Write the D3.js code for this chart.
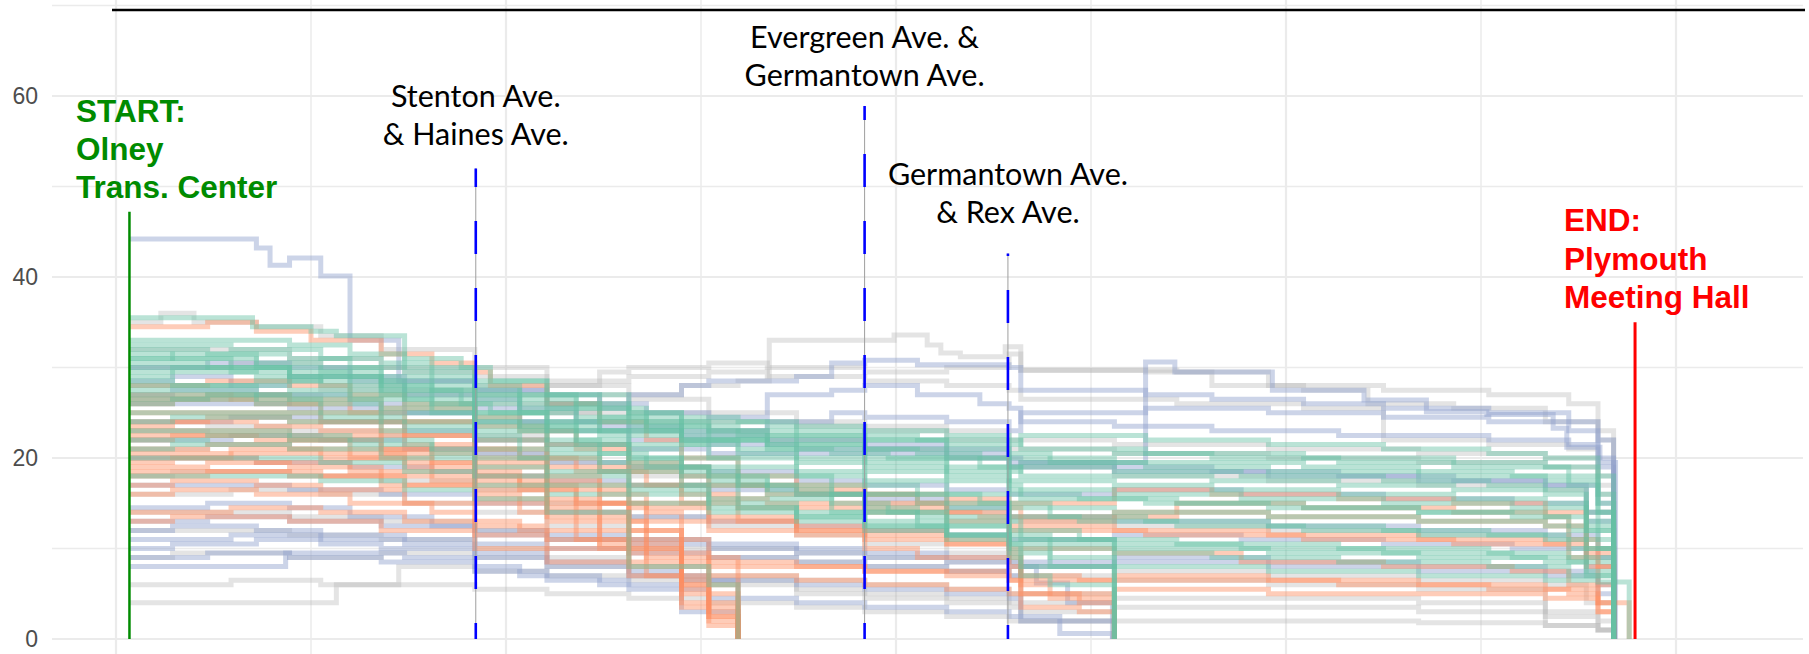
<!DOCTYPE html>
<html><head><meta charset="utf-8">
<script src="https://cdn.jsdelivr.net/npm/d3@7"></script>
<style>body{margin:0;background:#fff;overflow:hidden}</style>
</head><body><svg id="chart" width="1809" height="654"></svg>
<script>
// ---- axis values ----
const yTicks = [0, 20, 40, 60];
const yMinor = [10, 30, 50, 70];
const xMajor = [0, 2, 4, 6, 8];
const xMinor = [1, 3, 5, 7];

// ---- route landmarks (distance along route, value at top of marker) ----
const midStops = [
  {lines: ["Stenton Ave.", "& Haines Ave."], x: 1.845, top: 52.0},
  {lines: ["Evergreen Ave. &", "Germantown Ave."], x: 3.839, top: 58.9},
  {lines: ["Germantown Ave.", "& Rex Ave."], x: 4.574, top: 42.6}
];
const startStop = {lines: ["START:", "Olney", "Trans. Center"], x: 0.069, top: 47.2};
const endStop = {lines: ["END:", "Plymouth", "Meeting Hall"], x: 7.79, top: 35.0};

// ---- trips: [distance, value] step points ----
const greenTrips = [
  [[0.07,35.5],[0.30,35.5],[0.70,34.5],[1.00,34],[1.13,33.5],[1.48,31],[1.77,30],[1.92,28.5],[2.21,27],[2.48,25.5],[2.72,24],[3.04,23],[3.34,22.5],[3.84,22],[4.26,21.5],[4.64,22.5],[5.28,22],[5.91,21.5],[6.50,21],[7.04,20.5],[7.33,20],[7.60,18],[7.68,0]],
  [[0.07,32],[0.47,31.5],[0.89,31],[1.20,30],[1.48,29.5],[1.84,28],[2.07,27],[2.36,26],[2.63,25],[2.90,24.5],[3.19,24],[3.49,23],[3.84,22.5],[4.11,22],[4.58,20.5],[4.79,19.5],[5.44,19.5],[6.09,19],[6.68,18.5],[7.16,18],[7.45,17],[7.60,12],[7.68,0]],
  [[0.07,31],[0.29,31.5],[0.72,30.5],[1.05,30],[1.36,29],[1.62,28],[1.84,26.5],[2.07,25],[2.36,24],[2.72,23],[3.04,22],[3.34,21],[3.67,20.5],[3.96,20],[4.43,19],[4.64,18],[5.12,18],[5.62,17.5],[6.27,17],[6.86,16.5],[7.33,16],[7.54,14],[7.68,0]],
  [[0.07,30],[0.59,30],[0.89,29],[1.20,28.5],[1.48,27.5],[1.77,26],[1.92,25],[2.21,23.5],[2.48,22.5],[2.90,21.5],[3.19,20.5],[3.49,19.5],[3.84,18.5],[4.26,17.5],[4.58,16],[4.94,15.5],[5.44,15],[6.09,14.5],[6.68,14],[7.16,13.5],[7.45,12],[7.60,10],[7.68,0]],
  [[0.07,29],[0.29,29.5],[0.72,29],[1.05,28],[1.36,27],[1.62,26],[1.84,24.5],[2.07,23.5],[2.36,22],[2.63,21],[2.90,20],[3.19,19],[3.49,18],[3.84,17],[4.11,16],[4.43,15],[4.79,13.5],[5.28,13],[5.91,12.5],[6.50,12],[7.04,11.5],[7.45,10],[7.68,0]],
  [[0.07,28],[0.47,28],[0.89,27.5],[1.20,27],[1.48,26],[1.84,23.5],[2.21,22],[2.48,20.5],[2.72,19],[3.04,18],[3.34,16.5],[3.67,15],[3.96,14],[4.26,13],[4.58,11.5],[4.79,11],[5.44,10.5],[6.27,10],[7.04,9.5],[7.45,8.5],[7.68,0]],
  [[0.07,27],[0.29,27],[0.72,26.5],[1.05,26],[1.36,25.5],[1.62,25],[1.84,24],[2.07,23],[2.36,21.5],[2.63,20],[2.90,18.5],[3.19,17],[3.49,16],[3.84,14.5],[4.11,13.5],[4.58,12],[4.94,11],[5.12,10.5],[5.77,10],[6.50,9.5],[7.16,9],[7.54,7],[7.68,0]],
  [[0.07,25],[0.59,25],[1.05,24.5],[1.48,23.5],[1.84,22],[2.21,20.5],[2.63,19],[3.04,17.5],[3.34,16],[3.84,14],[4.26,12.5],[4.58,11],[4.79,9],[5.12,8],[5.91,7.5],[6.68,7],[7.33,6.5],[7.60,6.3],[7.76,0]],
  [[0.07,24],[0.29,24.5],[0.89,24],[1.36,23],[1.84,21],[2.07,20],[2.48,18.5],[2.90,17],[3.19,15.5],[3.67,14],[4.11,12.5],[4.58,9],[4.64,7],[4.79,6],[5.12,0]],
  [[0.07,22],[0.47,22.5],[0.89,22],[1.20,21.5],[1.62,20.5],[1.84,19],[2.21,18],[2.63,16.5],[3.04,15],[3.49,14],[3.84,13],[4.26,11.5],[4.58,10],[5.12,9.5],[5.62,9],[6.27,8.5],[7.04,8],[7.45,7],[7.68,0]],
  [[0.07,20],[0.59,20],[1.05,19.5],[1.48,18.5],[1.84,17],[2.21,16],[2.63,15],[3.04,14],[3.49,13],[3.84,12],[4.26,11],[4.58,9.5],[4.79,8],[5.12,0]],
  [[0.07,31.5],[0.29,31],[0.59,30],[0.89,29.5],[1.20,29],[1.36,28],[1.62,27.5],[1.84,27],[2.07,26.5],[2.36,25.5],[2.63,24.5],[2.90,23.5],[3.19,22.5],[3.49,22],[3.84,21],[4.11,20.5],[4.43,20],[4.58,19],[5.12,18.5],[5.77,18],[6.50,17.5],[7.04,17],[7.33,16.5],[7.54,13],[7.68,0]],
  [[0.07,30.5],[0.47,30],[0.89,29],[1.36,27.5],[1.84,25],[2.21,24],[2.48,23],[2.90,22],[3.34,21.5],[3.84,20],[4.26,19],[4.58,17.5],[5.12,17],[5.62,16.5],[6.27,16],[6.86,15.5],[7.33,15],[7.54,11],[7.68,0]],
  [[0.07,26],[0.29,26.5],[0.72,26],[1.05,25],[1.36,24],[1.84,22.5],[2.07,21],[2.48,19.5],[2.90,18],[3.19,17],[3.67,16],[4.11,15],[4.58,13.5],[4.94,13],[5.44,12.5],[6.09,12],[6.68,11.5],[7.33,11],[7.54,9],[7.68,0]],
  [[0.07,23],[0.47,23],[0.89,22.5],[1.20,22],[1.62,21],[1.84,20],[2.21,18.5],[2.63,17],[3.04,15.5],[3.19,14.5],[3.49,13.5],[3.84,12.5],[4.26,11.5],[4.58,10.5],[4.64,8],[5.12,0]],
  [[0.07,18],[0.59,18],[1.05,17.5],[1.48,16.5],[1.84,15.5],[2.21,14],[2.63,8],[3.04,6],[3.19,0]],
  [[0.07,27.5],[0.72,27],[1.20,26.5],[1.62,25.5],[1.84,24],[2.36,23],[2.90,22],[3.49,21],[3.84,19.5],[4.26,18.5],[4.58,17],[4.64,15.5],[5.28,15],[5.91,14.5],[6.68,14],[7.33,13.5],[7.54,12],[7.68,0]],
  [[0.07,33],[0.47,33],[0.89,32.5],[1.20,31.5],[1.48,30],[1.84,28.5],[2.21,27],[2.63,25],[2.90,24],[3.34,23.5],[3.84,23],[4.26,22.5],[4.58,22],[4.64,21],[5.28,20.5],[6.09,20],[6.86,19.5],[7.33,19],[7.60,16],[7.68,0]],
  [[0.07,29.5],[0.29,30],[0.59,29.5],[0.89,28.5],[1.05,29],[1.36,28],[1.62,27],[1.84,26],[2.07,25.5],[2.36,24.5],[2.63,23.5],[2.90,22],[3.19,21],[3.49,20],[3.84,19],[4.26,18],[4.58,16.5],[5.12,16],[5.77,15.5],[6.50,15],[7.16,14.5],[7.54,12.5],[7.68,0]],
  [[0.07,31],[0.47,31],[0.72,30],[1.05,29.5],[1.36,28.5],[1.84,27.5],[2.07,26],[2.48,24],[2.90,22.5],[3.34,21.5],[3.84,21],[4.26,20],[4.58,18.5],[4.64,19.5],[5.28,19],[5.91,18.5],[6.68,18],[7.33,17.5],[7.60,14],[7.68,0]],
  [[0.07,28.5],[0.29,28],[0.72,28.5],[1.20,27.5],[1.48,26.5],[1.84,25],[2.21,23],[2.63,21.5],[3.04,20],[3.49,18.5],[3.84,17.5],[4.26,16],[4.58,14.5],[5.12,14],[5.91,13.5],[6.68,13],[7.33,12.5],[7.54,10],[7.68,0]],
  [[0.07,32.5],[0.59,32],[1.05,31],[1.36,30.5],[1.62,29],[1.84,27],[2.21,25.5],[2.48,24.5],[2.72,23.5],[3.04,23],[3.49,22.5],[3.84,22],[4.26,21],[4.58,20],[5.12,20.5],[5.62,20],[6.27,19.5],[6.86,19],[7.45,18],[7.60,15],[7.68,0]],
  [[0.07,26.5],[0.47,27],[0.89,26.5],[1.36,25],[1.84,23],[2.21,21.5],[2.63,20],[2.90,19],[3.19,18],[3.67,17],[3.84,16],[4.26,14.5],[4.58,13],[4.64,11],[5.12,0]],
  [[0.07,21],[0.29,21.5],[0.89,21],[1.36,20],[1.84,18],[2.21,17],[2.63,16],[3.04,14.5],[3.49,13.5],[3.84,12.5],[4.26,11.5],[4.58,10.5],[5.12,10],[5.91,9.5],[6.68,9],[7.33,8.5],[7.54,7.5],[7.68,0]]
];
const orangeTrips = [
  [[0.07,34.5],[0.29,34.5],[0.47,35],[0.72,34],[1.00,33],[1.36,31.5],[1.62,30.5],[1.84,29.5],[1.92,28],[2.21,26],[2.48,24],[2.72,22],[2.90,20],[3.19,18],[3.49,17],[3.84,16],[4.11,15],[4.58,14.5],[4.64,13],[5.12,13.5],[5.44,15],[6.09,14.5],[6.86,14],[7.33,13.5],[7.45,11],[7.60,8],[7.68,0]],
  [[0.07,28],[0.47,28.5],[0.89,28],[1.20,27],[1.48,26],[1.84,24.5],[2.07,23],[2.36,21],[2.63,19.5],[2.90,18],[3.19,17],[3.49,16.5],[3.84,16],[4.26,15.5],[4.58,15],[5.12,16.5],[5.62,16],[6.27,15.5],[6.86,15],[7.33,14],[7.54,10],[7.68,0]],
  [[0.07,26],[0.29,26.5],[0.72,26],[1.05,25],[1.36,24],[1.84,22],[2.21,20],[2.48,18.5],[2.90,16],[3.19,14.5],[3.84,14],[4.43,13.5],[4.58,12.5],[5.12,12],[5.91,11.5],[6.68,11],[7.33,10.5],[7.54,8],[7.68,0]],
  [[0.07,24],[0.47,24.5],[0.89,24],[1.36,22.5],[1.84,20],[2.21,18],[2.48,16],[2.72,14],[2.90,11],[3.04,8],[3.19,0]],
  [[0.07,22],[0.29,22.5],[0.72,22],[1.20,21],[1.62,19.5],[1.84,18.5],[2.07,17],[2.36,15],[2.63,12],[2.90,8],[3.04,5],[3.19,0]],
  [[0.07,20],[0.59,20.5],[1.05,20],[1.48,19],[1.84,17.5],[2.21,15.5],[2.48,13],[2.72,10],[2.90,6],[3.04,3.5],[3.19,0]],
  [[0.07,19],[0.47,19.5],[0.89,19],[1.36,18],[1.84,16],[2.07,14],[2.36,11],[2.63,8],[2.90,4],[3.04,2],[3.19,0]],
  [[0.07,18.5],[0.59,18.5],[1.05,18],[1.48,17],[1.84,15],[2.21,13],[2.48,10],[2.72,7],[2.90,5],[3.04,3],[3.19,0]],
  [[0.07,21],[0.47,21.5],[0.89,21],[1.20,20],[1.62,18.5],[1.84,17],[2.21,15],[2.63,13],[3.04,12],[3.49,11.5],[3.84,11],[4.26,10.5],[4.58,9.5],[4.64,7],[4.94,6.5],[5.44,6.5],[6.27,6],[7.04,5.5],[7.45,5],[7.60,3],[7.68,0]],
  [[0.07,17],[0.29,17.5],[0.72,17],[1.05,16.5],[1.48,15],[1.84,13],[2.07,12],[2.48,10.5],[2.90,9],[3.19,8],[3.84,7.5],[4.58,6.5],[4.64,3.5],[4.94,3],[5.12,0]],
  [[0.07,13],[0.29,13.5],[0.89,13],[1.36,12],[1.84,10],[2.21,8.5],[2.63,7],[2.90,6],[3.19,0]],
  [[0.07,27],[0.29,27],[0.59,26.5],[0.89,26],[1.20,25],[1.48,24],[1.84,21],[2.07,20],[2.36,18.5],[2.72,17],[3.04,15.5],[3.34,15],[3.84,14.5],[4.26,13],[4.58,12],[5.28,11.5],[6.09,11],[6.86,10.5],[7.45,9],[7.60,6],[7.68,0]],
  [[0.07,23],[0.47,23],[0.89,22.5],[1.36,21],[1.84,19],[2.21,17],[2.63,15],[3.04,13.5],[3.49,12.5],[3.84,12],[4.26,11],[4.58,10],[5.12,9.5],[5.77,8.5],[6.50,8],[7.16,7.5],[7.45,6],[7.60,4],[7.76,0]],
  [[0.07,14],[0.59,14.5],[1.05,14],[1.48,13],[1.84,11.5],[2.21,10],[2.63,8.5],[3.04,7],[3.49,6.5],[3.84,6],[4.26,5.5],[4.58,5],[5.12,5.5],[5.91,5],[6.68,5],[7.33,4.5],[7.60,3],[7.68,0]],
  [[0.07,19.5],[0.29,20],[0.72,19.5],[1.20,18.5],[1.62,17.5],[1.84,16.5],[2.21,14.5],[2.48,12],[2.72,9],[2.90,6.5],[3.04,4],[3.19,0]],
  [[0.07,25],[0.59,25],[1.05,24],[1.48,22.5],[1.84,21],[2.21,19],[2.63,17],[2.90,15],[3.19,13],[3.49,12],[3.84,10],[4.11,9],[4.58,8],[4.64,5],[4.94,4],[5.12,0]],
  [[0.07,23.5],[0.29,24],[0.72,23.5],[1.05,23],[1.48,21.5],[1.84,19.5],[2.21,17.5],[2.48,15],[2.72,12],[2.90,7],[3.04,2.5],[3.19,0]],
  [[0.07,18],[0.47,18.5],[0.89,18],[1.36,17],[1.84,15.5],[2.21,13.5],[2.63,10],[2.90,3.5],[3.04,1.5],[3.19,0]],
  [[0.07,20.5],[0.59,21],[1.05,20.5],[1.48,19.5],[1.84,18],[2.07,16.5],[2.36,14],[2.63,11],[2.90,5.5],[3.04,2.5],[3.19,0]],
  [[0.07,26.5],[0.47,27],[0.89,26.5],[1.36,25.5],[1.84,23.5],[2.21,21.5],[2.63,19],[3.04,17],[3.34,16],[3.84,15],[4.26,14],[4.58,13.5],[5.12,14],[5.91,13.5],[6.68,13],[7.33,12.5],[7.54,9.5],[7.68,0]],
  [[0.07,16],[0.29,16.5],[0.72,16],[1.20,15],[1.62,14],[1.84,12.5],[2.21,11],[2.63,9.5],[3.04,8.5],[3.49,8],[3.84,7.5],[4.26,7],[4.58,6.5],[5.12,7],[5.91,6.5],[6.68,6],[7.33,5.5],[7.60,4],[7.68,0]],
  [[0.07,22.5],[0.47,22.5],[0.89,22],[1.36,20.5],[1.84,18],[2.21,16.5],[2.63,14.5],[3.04,13],[3.49,12],[3.84,11.5],[4.26,10.5],[4.58,9],[4.64,6],[4.79,4.5],[5.12,0]]
];
const blueTrips = [
  [[0.07,44.2],[0.72,43.2],[0.79,41.3],[0.89,42.1],[1.05,40.1],[1.20,33],[1.45,28.5],[1.84,27.5],[2.21,27],[2.48,26],[2.72,25],[3.04,24.5],[3.34,27],[3.67,27.5],[3.84,28],[4.11,27],[4.43,26],[4.58,25.5],[4.64,24],[5.12,23.5],[5.62,23],[6.27,22.5],[7.04,22],[7.45,21.5],[7.60,19],[7.68,0]],
  [[0.07,30],[0.47,30.5],[0.89,30],[1.20,29],[1.48,28.5],[1.84,27.5],[2.21,26],[2.48,25.5],[2.63,27],[2.90,28],[3.04,28.5],[3.49,29],[3.67,30.5],[3.84,30.8],[4.11,30.3],[4.58,30],[4.64,27.5],[5.28,27],[5.62,26.5],[6.09,26],[6.50,25.5],[7.04,25],[7.45,24],[7.60,22],[7.68,0]],
  [[0.07,24],[0.59,24.5],[1.05,24],[1.48,23],[1.84,22],[2.21,21.5],[2.63,21],[3.04,20.5],[3.49,20.5],[3.84,21],[4.26,20.5],[4.58,20],[4.64,19.5],[5.28,30.6],[5.43,29.5],[5.93,27.5],[6.40,26.4],[6.72,25.1],[7.03,24.8],[7.37,23.3],[7.44,21.2],[7.61,19.5],[7.69,0]],
  [[0.07,12],[0.29,12.5],[0.72,12],[1.05,11.5],[1.48,11],[1.84,10.5],[2.21,10],[2.63,9.5],[3.04,9],[3.49,8.5],[3.84,8],[4.26,7.5],[4.58,7],[4.64,8],[4.72,6.2],[4.88,4],[5.11,0]],
  [[0.07,9],[0.47,9.5],[0.89,9],[1.36,8.5],[1.84,7.5],[2.21,6.5],[2.63,5.5],[3.04,4.5],[3.49,4],[3.84,3.5],[4.26,3],[4.58,2.5],[4.84,0.6],[5.11,0]],
  [[0.07,8],[0.81,8],[0.87,9.5],[1.20,9.5],[1.48,9],[1.84,8],[2.07,7],[2.48,6],[2.90,3],[3.19,0]],
  [[0.07,10],[0.29,10.5],[0.72,11],[1.05,10.5],[1.36,10],[1.84,9],[2.21,8],[2.63,7],[3.04,6.5],[3.49,6],[3.84,5.5],[4.26,5],[4.58,4.5],[4.64,2],[5.12,0]],
  [[0.07,14.5],[0.47,15],[0.89,14.5],[1.20,13.5],[1.62,12.5],[1.84,11.5],[2.21,11],[2.63,10.5],[3.04,10],[3.49,9.5],[3.84,9],[4.26,8.5],[4.58,8],[5.12,8.5],[5.91,8],[6.68,7.5],[7.33,7],[7.60,5],[7.68,0]],
  [[0.07,28.5],[0.29,29],[0.59,28],[0.89,29],[1.20,28.5],[1.48,27],[1.84,26.5],[2.07,25.5],[2.36,24],[2.63,23],[2.90,22.5],[3.34,22],[3.84,21.5],[4.26,21],[4.58,19.5],[5.12,19],[5.62,18.5],[6.27,18],[6.86,17.5],[7.33,17],[7.54,14],[7.68,0]],
  [[0.07,22],[0.59,22.5],[1.05,22],[1.48,21],[1.84,20.5],[2.21,19.5],[2.63,19],[3.04,18.5],[3.49,17.5],[3.84,17],[4.26,16.5],[4.58,16],[5.12,16.5],[5.77,16],[6.50,15.5],[7.16,15],[7.54,13],[7.68,0]],
  [[0.07,26],[0.47,26],[0.89,25.5],[1.36,25],[1.84,25.5],[2.07,24],[2.48,23.5],[2.90,23],[3.34,24],[3.67,25],[3.84,24.5],[4.26,24],[4.58,23],[4.64,25],[5.28,25.5],[5.91,25],[6.50,24.5],[7.04,24],[7.45,23],[7.60,20],[7.68,0]],
  [[0.07,17],[0.47,17],[0.89,16.5],[1.36,16],[1.84,15],[2.21,14],[2.63,13.5],[3.04,13],[3.49,12.5],[3.84,12],[4.26,11.5],[4.58,11],[5.12,11.5],[5.77,11],[6.50,10.5],[7.16,10],[7.54,8],[7.68,0]],
  [[0.07,20],[0.29,20],[0.72,19.5],[1.20,19],[1.62,18.5],[1.84,18],[2.21,17.5],[2.63,17],[3.04,16.5],[3.49,16],[3.84,15.5],[4.26,14.5],[4.58,13.5],[5.12,13],[5.91,12.5],[6.68,12],[7.33,11.5],[7.60,9],[7.68,0]],
  [[0.07,13],[0.47,13.5],[0.89,13],[1.36,12.5],[1.84,12],[2.21,11.5],[2.63,11],[3.04,10.5],[3.49,10],[3.84,9.5],[4.26,9],[4.58,8.5],[5.12,9],[5.91,8.5],[6.68,8],[7.33,7.5],[7.60,6],[7.68,0]],
  [[0.07,27],[0.29,27.5],[0.72,27],[1.20,26],[1.48,25],[1.84,24],[2.21,23],[2.63,22],[3.04,21.5],[3.49,21],[3.84,20.5],[4.26,20],[4.58,19],[5.12,18.5],[5.91,18],[6.68,17.5],[7.33,17],[7.60,15],[7.68,0]],
  [[0.07,11],[0.59,11.5],[1.05,11],[1.48,10.5],[1.84,9.5],[2.21,8.5],[2.63,7.5],[2.90,6.5],[3.19,0]]
];
const grayTrips = [
  [[0.07,4],[1.13,6],[1.45,8],[1.84,7.5],[2.21,7],[2.63,6.5],[3.04,6],[3.49,5.5],[3.84,5],[4.26,4.5],[4.58,4],[5.12,3.5],[5.91,3.5],[6.68,3],[7.33,2.5],[7.60,1],[7.68,0]],
  [[0.07,23],[0.47,23.5],[0.89,23],[1.36,22.5],[1.84,22.5],[2.21,25],[2.48,27],[2.90,28],[3.19,28.5],[3.35,33],[3.99,33.6],[4.16,32.5],[4.23,31.6],[4.33,31.2],[4.56,32.3],[4.64,29.7],[5.28,29.5],[5.91,28],[6.50,27.5],[7.04,27],[7.45,26],[7.60,23],[7.68,0]],
  [[0.07,30],[0.59,30.5],[1.05,30],[1.48,29.5],[1.84,29],[2.21,28.5],[2.63,29],[3.04,29.5],[3.34,29],[3.84,28.5],[4.26,28],[4.58,27.5],[4.64,26.5],[5.44,26],[6.09,25.5],[6.50,22],[7.04,21.5],[7.45,21],[7.60,18],[7.68,0]],
  [[0.07,35],[0.23,36],[0.40,35],[0.72,34.5],[1.05,33.5],[1.36,32],[1.84,30],[2.21,28],[2.63,26.5],[3.04,25],[3.49,24],[3.84,23.5],[4.26,23],[4.58,22],[5.12,21.5],[5.91,21],[6.68,20.5],[7.33,20],[7.60,17],[7.68,0]],
  [[0.07,16],[0.59,16.5],[1.05,16],[1.48,15],[1.84,14],[2.21,12.5],[2.63,11],[3.04,10],[3.49,9.5],[3.84,9],[4.26,8.5],[4.58,8],[5.12,7.5],[5.91,7],[6.68,6.5],[7.33,6],[7.54,4],[7.68,0]],
  [[0.07,9],[0.29,9.5],[0.89,9],[1.36,9.5],[1.84,9],[2.21,8],[2.63,7],[3.04,6.5],[3.49,5],[3.84,4.5],[4.26,4],[4.58,3.5],[4.64,2],[5.12,0]],
  [[0.07,21],[0.47,21.5],[0.89,22],[1.36,21],[1.84,20.5],[2.21,19.5],[2.63,18],[3.04,17],[3.49,16],[3.84,15],[4.26,14],[4.58,13],[5.12,12.5],[5.91,12],[6.68,11.5],[7.33,11],[7.54,9],[7.68,0]],
  [[0.07,26.5],[0.59,27],[1.05,27.5],[1.48,27],[1.84,26],[2.21,25],[2.63,24],[3.04,23],[3.34,22],[3.84,21],[4.26,20],[4.58,19],[5.12,18],[5.91,17.5],[6.68,17],[7.33,16.5],[7.54,14],[7.68,0]],
  [[0.07,12],[0.47,12],[0.89,11.5],[1.36,11],[1.84,10],[2.21,9],[2.63,8],[3.04,7],[3.49,6.5],[3.84,6],[4.26,5.5],[4.58,5],[5.12,4.5],[5.91,4.5],[6.68,4],[7.33,1.5],[7.60,1],[7.68,0]],
  [[0.07,18],[0.29,18.5],[0.89,18],[1.36,17.5],[1.84,16.5],[2.21,15],[2.63,13.5],[3.04,12.5],[3.49,11.5],[3.84,10.5],[4.26,9.5],[4.58,8.5],[4.64,3],[5.12,0]],
  [[0.07,6],[0.59,6.5],[1.05,6],[1.48,6],[1.84,5.5],[2.21,5],[2.63,4.5],[3.04,4],[3.49,3.5],[3.84,3],[4.26,2.5],[4.58,2],[5.12,2],[5.91,2],[6.68,1.8],[7.33,1.5],[7.60,1],[7.68,0]],
  [[0.07,32],[0.47,32],[0.89,31],[1.36,30],[1.84,28],[2.21,28],[2.48,29.5],[2.63,30],[3.04,30.5],[3.34,30],[3.84,29.5],[4.26,30],[4.58,31.5],[4.64,29.7],[5.44,29.5],[5.62,28],[6.09,27.5],[6.42,26],[6.86,25.5],[7.33,24],[7.60,22],[7.68,0]],
  [[0.07,28],[0.59,28.5],[1.05,28],[1.48,27.5],[1.84,27],[2.21,26],[2.63,25],[3.04,24],[3.49,23.5],[3.84,23],[4.26,22],[4.58,21],[5.12,20.5],[5.91,20],[6.68,19.5],[7.33,19],[7.60,16],[7.68,0]],
  [[0.07,14],[0.47,14],[0.89,13.5],[1.36,13],[1.84,12],[2.21,11],[2.63,10],[3.04,9],[3.49,8.5],[3.84,8],[4.26,7.5],[4.58,7],[5.12,6.5],[5.91,6],[6.68,5.5],[7.33,3],[7.60,2],[7.68,0]]
];

const colorGroups = [
  {trips: grayTrips, color: "#b3b3b3", op: 0.35},
  {trips: blueTrips, color: "#8da0cb", op: 0.45},
  {trips: orangeTrips, color: "#fc8d62", op: 0.45},
  {trips: greenTrips, color: "#66c2a5", op: 0.45}
];

// ---- drawing ----
const W = 1809, H = 654;
const svg = d3.select("#chart");
const x = d3.scaleLinear().domain([0, 8]).range([116, 1676]);
const y = d3.scaleLinear().domain([0, 60]).range([639, 96]);
const panelL = 52, panelR = 1803;

const grid = svg.append("g");
grid.selectAll(".hmin").data(yMinor).join("line")
  .attr("x1", panelL).attr("x2", panelR).attr("y1", d => y(d)).attr("y2", d => y(d))
  .attr("stroke", "#ebebeb").attr("stroke-width", 1.5);
grid.selectAll(".hmaj").data(yTicks).join("line")
  .attr("x1", panelL).attr("x2", panelR).attr("y1", d => y(d)).attr("y2", d => y(d))
  .attr("stroke", "#ebebeb").attr("stroke-width", 2.2);
grid.selectAll(".vmin").data(xMinor).join("line")
  .attr("x1", d => x(d)).attr("x2", d => x(d)).attr("y1", 0).attr("y2", H)
  .attr("stroke", "#ebebeb").attr("stroke-width", 1.5);
grid.selectAll(".vmaj").data(xMajor).join("line")
  .attr("x1", d => x(d)).attr("x2", d => x(d)).attr("y1", 0).attr("y2", H)
  .attr("stroke", "#ebebeb").attr("stroke-width", 2.2);

// y axis labels
const yAxis = d3.axisLeft(y).tickValues(yTicks).tickSize(0).tickPadding(0);
const ya = svg.append("g").attr("transform", "translate(38,0)").call(yAxis);
ya.select(".domain").remove();
ya.selectAll("text").attr("fill", "#4d4d4d")
  .style("font-family", "'Liberation Sans', Arial, sans-serif").style("font-size", "23px");

// top rule
svg.append("line").attr("x1", 112).attr("x2", 1805).attr("y1", 10).attr("y2", 10)
  .attr("stroke", "#000").attr("stroke-width", 2.5);

// trips
const line = d3.line().x(d => x(d[0])).y(d => y(d[1])).curve(d3.curveStepAfter);
const tg = svg.append("g");
colorGroups.forEach(g => {
  tg.append("g").selectAll("path").data(g.trips).join("path")
    .attr("d", line).attr("fill", "none")
    .attr("stroke", g.color).attr("stroke-opacity", g.op)
    .attr("stroke-width", 5).attr("stroke-linejoin", "miter");
});

// stop markers
const ann = svg.append("g");
midStops.forEach((s, i) => {
  ann.append("line").attr("x1", x(s.x)).attr("x2", x(s.x)).attr("y1", y(0)).attr("y2", y(s.top))
    .attr("stroke", "#9e9e9e").attr("stroke-width", 1);
  ann.append("line").attr("x1", x(s.x)).attr("x2", x(s.x)).attr("y1", y(0)).attr("y2", y(s.top))
    .attr("stroke", "#0000ff").attr("stroke-width", 2.6)
    .attr("stroke-dasharray", "33 34").attr("stroke-dashoffset", i === 2 ? 19 : 17);
});
const midBase = [[106.7, 145], [48, 86], [185, 223]];
midStops.forEach((s, i) => {
  s.lines.forEach((t, j) => {
    ann.append("text").attr("x", x(s.x)).attr("y", midBase[i][j]).attr("text-anchor", "middle")
      .style("font-family", "Lato, 'Open Sans', sans-serif").style("font-size", "30.5px")
      .attr("fill", "#000").text(t);
  });
});

ann.append("line").attr("x1", x(startStop.x)).attr("x2", x(startStop.x))
  .attr("y1", y(0)).attr("y2", y(startStop.top)).attr("stroke", "#008b00").attr("stroke-width", 2.5);
ann.append("line").attr("x1", x(endStop.x)).attr("x2", x(endStop.x))
  .attr("y1", y(0)).attr("y2", y(endStop.top)).attr("stroke", "#ff0000").attr("stroke-width", 3);

const boldFont = "'Liberation Sans', Arial, sans-serif";
startStop.lines.forEach((t, j) => {
  ann.append("text").attr("x", 76).attr("y", 121.5 + j * 38.2)
    .style("font-family", boldFont).style("font-weight", "bold").style("font-size", "31.5px")
    .attr("fill", "#008b00").text(t);
});
endStop.lines.forEach((t, j) => {
  ann.append("text").attr("x", 1564).attr("y", 231 + j * 38.5)
    .style("font-family", boldFont).style("font-weight", "bold").style("font-size", "31.5px")
    .attr("fill", "#ff0000").text(t);
});
</script>
</body></html>
